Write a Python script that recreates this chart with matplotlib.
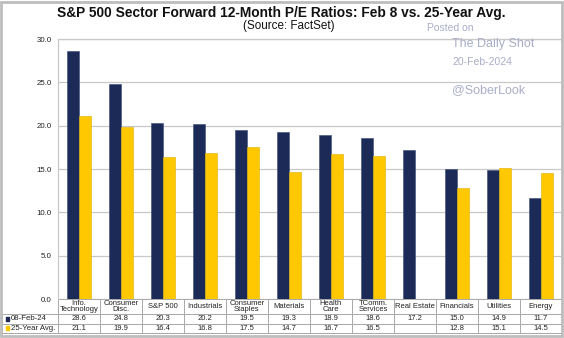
import matplotlib.pyplot as plt
import numpy as np
from matplotlib.patches import Rectangle

plt.rcParams['font.family'] = ['Liberation Sans', 'DejaVu Sans']

sectors = ["Info.\nTechnology", "Consumer\nDisc.", "S&P 500", "Industrials",
           "Consumer\nStaples", "Materials", "Health\nCare", "TComm.\nServices",
           "Real Estate", "Financials", "Utilities", "Energy"]
pe_feb = [28.6, 24.8, 20.3, 20.2, 19.5, 19.3, 18.9, 18.6, 17.2, 15.0, 14.9, 11.7]
pe_avg = [21.1, 19.9, 16.4, 16.8, 17.5, 14.7, 16.7, 16.5, None, 12.8, 15.1, 14.5]
series_names = ["08-Feb-24", "25-Year Avg."]

NAVY = "#1b2a57"
GOLD = "#ffc800"
GRID = "#c8c8c8"
TXT = "#222222"

fig = plt.figure(figsize=(5.64, 3.38), dpi=100)
ax = fig.add_axes([58/564, 39/338, 504/564, 260/338])

n = len(sectors)
x = np.arange(n)
w = 0.28
avg_vals = [np.nan if v is None else v for v in pe_avg]
ax.bar(x - w/2, pe_feb, w, color=NAVY, edgecolor="#3a4a78", linewidth=0.4, zorder=3)
ax.bar(x + w/2, avg_vals, w, color=GOLD, edgecolor="#e0b000", linewidth=0.4, zorder=3)

ax.set_xlim(-0.5, n - 0.5)
ax.set_ylim(0, 30)
ax.set_yticks(np.arange(0, 31, 5))
ax.set_yticklabels([f"{v:.1f}" for v in np.arange(0, 31, 5)], fontsize=5.7, color=TXT)
ax.set_xticks([])
ax.tick_params(axis="y", length=0, pad=4.5)
ax.grid(axis="y", color=GRID, linewidth=0.9, zorder=0)
for s in ax.spines.values():
    s.set_color(GRID)
    s.set_linewidth(0.9)
ax.spines["bottom"].set_visible(False)

# data table under the bars
tr = ax.get_xaxis_transform()
px = 1 / 260
unit = 504 / n
y_top, y_r1, y_r2, y_bot = 0, -15*px, -24.5*px, -34*px
x_left = -0.5 - 56/unit
lc = "#a8a8a8"
for yy in (y_r1, y_r2, y_bot):
    ax.plot([x_left, n - 0.5], [yy, yy], transform=tr, color=lc, lw=0.7, clip_on=False)
ax.plot([-0.5, n - 0.5], [y_top, y_top], transform=tr, color=lc, lw=0.7, clip_on=False)
ax.plot([x_left, x_left], [y_r1, y_bot], transform=tr, color=lc, lw=0.7, clip_on=False)
for i in range(n + 1):
    ax.plot([i - 0.5, i - 0.5], [y_top, y_bot], transform=tr, color=lc, lw=0.7, clip_on=False)

for i in range(n):
    ax.text(i, (y_top + y_r1)/2, sectors[i], transform=tr, ha="center", va="center",
            fontsize=5.5, color=TXT, linespacing=0.95)
    ax.text(i, (y_r1 + y_r2)/2, f"{pe_feb[i]:.1f}", transform=tr, ha="center",
            va="center", fontsize=5.5, color=TXT)
    if pe_avg[i] is not None:
        ax.text(i, (y_r2 + y_bot)/2, f"{pe_avg[i]:.1f}", transform=tr, ha="center",
                va="center", fontsize=5.5, color=TXT)

for name, col, (ya, yb) in zip(series_names, [NAVY, GOLD], [(y_r1, y_r2), (y_r2, y_bot)]):
    ym = (ya + yb)/2
    ax.add_patch(Rectangle((x_left + 4/unit, ym - 2*px), 3.5/unit, 4*px, transform=tr,
                           color=col, clip_on=False))
    ax.text(x_left + 9/unit, ym, name, transform=tr, ha="left", va="center",
            fontsize=5.6, color=TXT)

# titles
fig.text(281.5/564, 1 - 13/338, "S&P 500 Sector Forward 12-Month P/E Ratios: Feb 8 vs. 25-Year Avg.",
         ha="center", va="center", fontsize=9.9, fontweight="bold", color="#111111")
fig.text(289/564, 1 - 26/338, "(Source: FactSet)", ha="center", va="center",
         fontsize=8.4, color="#111111")

# watermark
wm = "#a9adc8"
fig.text(427/564, 1 - 28/338, "Posted on", fontsize=7.5, color=wm, va="center")
fig.text(452/564, 1 - 44/338, "The Daily Shot", fontsize=9, color=wm, va="center")
fig.text(452/564, 1 - 62/338, "20-Feb-2024", fontsize=7.5, color=wm, va="center")
fig.text(452/564, 1 - 90/338, "@SoberLook", fontsize=9, color=wm, va="center")

# outer frame
fig.patches.append(Rectangle((0.8/564, 2.5/338), 561/564, 334/338, transform=fig.transFigure,
                             fill=False, edgecolor="#bdbdbd", linewidth=2))

fig.savefig("out.png", dpi=100)
